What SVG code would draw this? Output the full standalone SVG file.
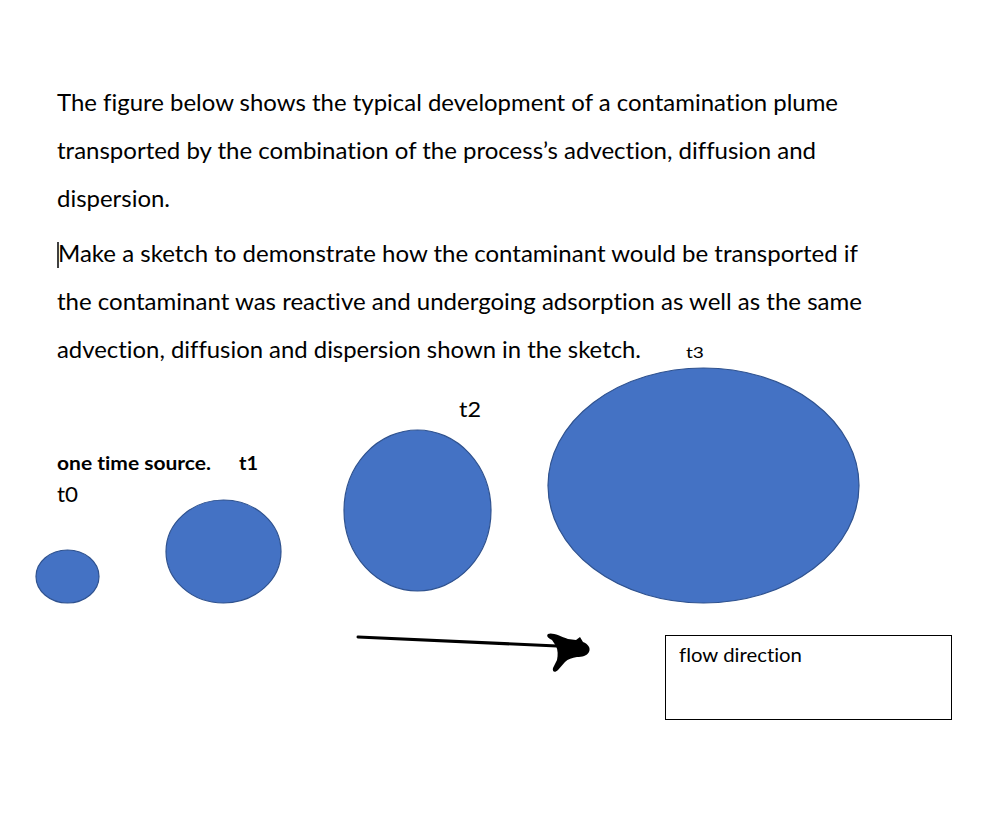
<svg xmlns="http://www.w3.org/2000/svg" width="983" height="821" viewBox="0 0 983 821">
<style>
.t{font-family:Lato,"Open Sans","Liberation Sans",sans-serif;fill:#000;font-variant-ligatures:none;font-feature-settings:"liga" 0,"clig" 0}
.p{font-size:23px}
.plume{fill:#4472C4;stroke:#2F528F;stroke-width:1.2}
</style>
<rect width="983" height="821" fill="#fff"/>
<g id="paragraph">
<text class="t p" x="57" y="111" textLength="781" lengthAdjust="spacingAndGlyphs">The figure below shows the typical development of a contamination plume</text>
<text class="t p" x="57" y="159" textLength="759" lengthAdjust="spacingAndGlyphs">transported by the combination of the process’s advection, diffusion and</text>
<text class="t p" x="57" y="207" textLength="113" lengthAdjust="spacingAndGlyphs">dispersion.</text>
<line x1="58" y1="242" x2="58" y2="268" stroke="#000" stroke-width="1.5"/>
<text class="t p" x="58" y="262" textLength="800" lengthAdjust="spacingAndGlyphs">Make a sketch to demonstrate how the contaminant would be transported if</text>
<text class="t p" x="57" y="310" textLength="805" lengthAdjust="spacingAndGlyphs">the contaminant was reactive and undergoing adsorption as well as the same</text>
<text class="t p" x="57" y="358" textLength="584" lengthAdjust="spacingAndGlyphs">advection, diffusion and dispersion shown in the sketch.</text>
</g>
<g id="t0">
<ellipse class="plume" cx="67.5" cy="576.5" rx="31.5" ry="26.5"/>
<text class="t" x="57" y="502" font-size="21" textLength="21" lengthAdjust="spacingAndGlyphs">t0</text>
<text class="t" x="57" y="470" font-size="18" font-weight="bold" textLength="154" lengthAdjust="spacingAndGlyphs">one time source.</text>
</g>
<g id="t1">
<ellipse class="plume" cx="223.5" cy="551.5" rx="57.5" ry="51.5"/>
<text class="t" x="239" y="470" font-size="18" font-weight="bold" textLength="19" lengthAdjust="spacingAndGlyphs">t1</text>
</g>
<g id="t2">
<ellipse class="plume" cx="417.5" cy="510.5" rx="73.5" ry="80.5"/>
<text class="t" x="459" y="417" font-size="21" textLength="22" lengthAdjust="spacingAndGlyphs">t2</text>
</g>
<g id="t3">
<ellipse class="plume" cx="703.5" cy="485.5" rx="155.5" ry="117.5"/>
<text class="t" x="686" y="358" font-size="16" textLength="18" lengthAdjust="spacingAndGlyphs">t3</text>
</g>
<g id="connectors">
<line x1="358" y1="637" x2="557" y2="646" stroke="#000" stroke-width="3" stroke-linecap="round"/>
<path d="M548,634 C552,632 560,636 568,639 L576,640 L580,637 L583,642 C588,644 591,648 589,652 C587,656 582,657 577,657 C572,658 568,659 565,662 L558,670 C555,673 552,672 553,668 L557,660 C558,655 558,650 556,646 L552,640 C548,638 546,636 548,634 Z" fill="#000"/>
</g>
<g id="flow-direction">
<rect x="665.5" y="635.5" width="286" height="84" fill="#fff" stroke="#000" stroke-width="1"/>
<text class="t" x="679" y="662" font-size="19" textLength="123" lengthAdjust="spacingAndGlyphs">flow direction</text>
</g>
</svg>
